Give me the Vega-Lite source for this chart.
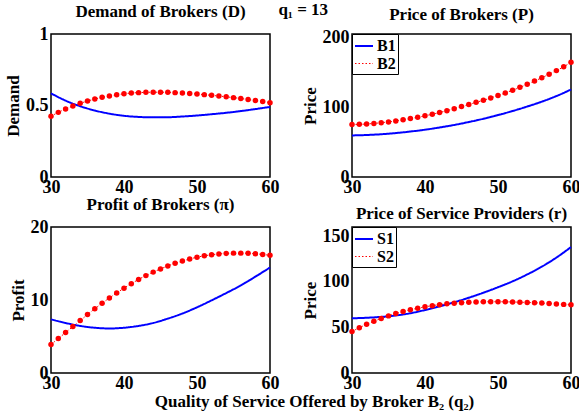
{
  "$schema": "https://vega.github.io/schema/vega-lite/v6.json",
  "background": "white",
  "padding": {"left": 3, "top": 1, "right": 0, "bottom": 2},
  "title": {"text": "q₁ = 13", "anchor": "middle", "offset": -17, "baseline": "top", "dx": 11, "fontSize": 17, "font": "Liberation Serif", "fontWeight": "bold", "color": "black"},
  "columns": 2,
  "spacing": {"row": 50, "column": 82},
  "bounds": "flush",
  "resolve": {"scale": {"color": "independent", "strokeDash": "independent", "strokeWidth": "independent"}},
  "datasets": {
    "demand": [
      {"q":30,"v":0.425,"s":"B2"},{"q":31,"v":0.452,"s":"B2"},{"q":32,"v":0.476,"s":"B2"},{"q":33,"v":0.497,"s":"B2"},{"q":34,"v":0.515,"s":"B2"},{"q":35,"v":0.531,"s":"B2"},{"q":36,"v":0.545,"s":"B2"},{"q":37,"v":0.557,"s":"B2"},{"q":38,"v":0.567,"s":"B2"},{"q":39,"v":0.575,"s":"B2"},{"q":40,"v":0.582,"s":"B2"},{"q":41,"v":0.587,"s":"B2"},{"q":42,"v":0.590,"s":"B2"},{"q":43,"v":0.592,"s":"B2"},{"q":44,"v":0.593,"s":"B2"},{"q":45,"v":0.593,"s":"B2"},{"q":46,"v":0.592,"s":"B2"},{"q":47,"v":0.590,"s":"B2"},{"q":48,"v":0.587,"s":"B2"},{"q":49,"v":0.584,"s":"B2"},{"q":50,"v":0.580,"s":"B2"},{"q":51,"v":0.576,"s":"B2"},{"q":52,"v":0.571,"s":"B2"},{"q":53,"v":0.566,"s":"B2"},{"q":54,"v":0.561,"s":"B2"},{"q":55,"v":0.555,"s":"B2"},{"q":56,"v":0.549,"s":"B2"},{"q":57,"v":0.542,"s":"B2"},{"q":58,"v":0.535,"s":"B2"},{"q":59,"v":0.528,"s":"B2"},{"q":60,"v":0.520,"s":"B2"},
      {"q":30,"v":0.585,"s":"B1"},{"q":32,"v":0.534,"s":"B1"},{"q":34,"v":0.495,"s":"B1"},{"q":36,"v":0.465,"s":"B1"},{"q":38,"v":0.443,"s":"B1"},{"q":40,"v":0.428,"s":"B1"},{"q":42,"v":0.420,"s":"B1"},{"q":44,"v":0.417,"s":"B1"},{"q":46,"v":0.418,"s":"B1"},{"q":48,"v":0.423,"s":"B1"},{"q":50,"v":0.430,"s":"B1"},{"q":52,"v":0.439,"s":"B1"},{"q":54,"v":0.449,"s":"B1"},{"q":56,"v":0.461,"s":"B1"},{"q":58,"v":0.475,"s":"B1"},{"q":60,"v":0.490,"s":"B1"}
    ],
    "bprice": [
      {"q":30,"v":75.3,"s":"B2"},{"q":31,"v":75.5,"s":"B2"},{"q":32,"v":76.0,"s":"B2"},{"q":33,"v":76.8,"s":"B2"},{"q":34,"v":77.8,"s":"B2"},{"q":35,"v":79.0,"s":"B2"},{"q":36,"v":80.4,"s":"B2"},{"q":37,"v":82.0,"s":"B2"},{"q":38,"v":83.8,"s":"B2"},{"q":39,"v":85.7,"s":"B2"},{"q":40,"v":87.7,"s":"B2"},{"q":41,"v":90.0,"s":"B2"},{"q":42,"v":92.4,"s":"B2"},{"q":43,"v":95.0,"s":"B2"},{"q":44,"v":97.9,"s":"B2"},{"q":45,"v":101.0,"s":"B2"},{"q":46,"v":104.0,"s":"B2"},{"q":47,"v":107.0,"s":"B2"},{"q":48,"v":110.0,"s":"B2"},{"q":49,"v":113.3,"s":"B2"},{"q":50,"v":116.8,"s":"B2"},{"q":51,"v":120.5,"s":"B2"},{"q":52,"v":124.4,"s":"B2"},{"q":53,"v":128.5,"s":"B2"},{"q":54,"v":132.9,"s":"B2"},{"q":55,"v":137.5,"s":"B2"},{"q":56,"v":142.3,"s":"B2"},{"q":57,"v":147.3,"s":"B2"},{"q":58,"v":152.5,"s":"B2"},{"q":59,"v":158.0,"s":"B2"},{"q":60,"v":164.5,"s":"B2"},
      {"q":30,"v":59.6,"s":"B1"},{"q":32,"v":60.2,"s":"B1"},{"q":34,"v":61.3,"s":"B1"},{"q":36,"v":63.0,"s":"B1"},{"q":38,"v":65.2,"s":"B1"},{"q":40,"v":67.8,"s":"B1"},{"q":42,"v":71.0,"s":"B1"},{"q":44,"v":74.6,"s":"B1"},{"q":46,"v":78.8,"s":"B1"},{"q":48,"v":83.5,"s":"B1"},{"q":50,"v":88.8,"s":"B1"},{"q":52,"v":94.6,"s":"B1"},{"q":54,"v":101.0,"s":"B1"},{"q":56,"v":108.0,"s":"B1"},{"q":58,"v":116.0,"s":"B1"},{"q":60,"v":125.4,"s":"B1"}
    ],
    "profit": [
      {"q":30,"v":3.9,"s":"B2"},{"q":31,"v":4.72,"s":"B2"},{"q":32,"v":5.54,"s":"B2"},{"q":33,"v":6.36,"s":"B2"},{"q":34,"v":7.18,"s":"B2"},{"q":35,"v":8.0,"s":"B2"},{"q":36,"v":8.8,"s":"B2"},{"q":37,"v":9.56,"s":"B2"},{"q":38,"v":10.28,"s":"B2"},{"q":39,"v":10.96,"s":"B2"},{"q":40,"v":11.62,"s":"B2"},{"q":41,"v":12.24,"s":"B2"},{"q":42,"v":12.82,"s":"B2"},{"q":43,"v":13.34,"s":"B2"},{"q":44,"v":13.82,"s":"B2"},{"q":45,"v":14.26,"s":"B2"},{"q":46,"v":14.66,"s":"B2"},{"q":47,"v":15.02,"s":"B2"},{"q":48,"v":15.34,"s":"B2"},{"q":49,"v":15.62,"s":"B2"},{"q":50,"v":15.86,"s":"B2"},{"q":51,"v":16.05,"s":"B2"},{"q":52,"v":16.2,"s":"B2"},{"q":53,"v":16.31,"s":"B2"},{"q":54,"v":16.38,"s":"B2"},{"q":55,"v":16.42,"s":"B2"},{"q":56,"v":16.42,"s":"B2"},{"q":57,"v":16.39,"s":"B2"},{"q":58,"v":16.33,"s":"B2"},{"q":59,"v":16.24,"s":"B2"},{"q":60,"v":16.12,"s":"B2"},
      {"q":30,"v":7.35,"s":"B1"},{"q":32,"v":6.85,"s":"B1"},{"q":34,"v":6.45,"s":"B1"},{"q":36,"v":6.2,"s":"B1"},{"q":38,"v":6.1,"s":"B1"},{"q":40,"v":6.2,"s":"B1"},{"q":42,"v":6.45,"s":"B1"},{"q":44,"v":6.85,"s":"B1"},{"q":46,"v":7.45,"s":"B1"},{"q":48,"v":8.15,"s":"B1"},{"q":50,"v":9.0,"s":"B1"},{"q":52,"v":9.95,"s":"B1"},{"q":54,"v":10.95,"s":"B1"},{"q":56,"v":12.0,"s":"B1"},{"q":58,"v":13.2,"s":"B1"},{"q":60,"v":14.45,"s":"B1"}
    ],
    "sprice": [
      {"q":30,"v":45.5,"s":"S2"},{"q":31,"v":49.6,"s":"S2"},{"q":32,"v":53.3,"s":"S2"},{"q":33,"v":56.7,"s":"S2"},{"q":34,"v":59.8,"s":"S2"},{"q":35,"v":62.6,"s":"S2"},{"q":36,"v":65.1,"s":"S2"},{"q":37,"v":67.3,"s":"S2"},{"q":38,"v":69.3,"s":"S2"},{"q":39,"v":71.0,"s":"S2"},{"q":40,"v":72.5,"s":"S2"},{"q":41,"v":73.8,"s":"S2"},{"q":42,"v":74.9,"s":"S2"},{"q":43,"v":75.8,"s":"S2"},{"q":44,"v":76.5,"s":"S2"},{"q":45,"v":77.1,"s":"S2"},{"q":46,"v":77.5,"s":"S2"},{"q":47,"v":77.8,"s":"S2"},{"q":48,"v":78.0,"s":"S2"},{"q":49,"v":78.1,"s":"S2"},{"q":50,"v":78.1,"s":"S2"},{"q":51,"v":78.0,"s":"S2"},{"q":52,"v":77.8,"s":"S2"},{"q":53,"v":77.6,"s":"S2"},{"q":54,"v":77.3,"s":"S2"},{"q":55,"v":77.0,"s":"S2"},{"q":56,"v":76.6,"s":"S2"},{"q":57,"v":76.2,"s":"S2"},{"q":58,"v":75.7,"s":"S2"},{"q":59,"v":75.2,"s":"S2"},{"q":60,"v":74.7,"s":"S2"},
      {"q":30,"v":60.0,"s":"S1"},{"q":32,"v":60.5,"s":"S1"},{"q":34,"v":61.5,"s":"S1"},{"q":36,"v":63.0,"s":"S1"},{"q":38,"v":65.5,"s":"S1"},{"q":40,"v":69.0,"s":"S1"},{"q":42,"v":73.0,"s":"S1"},{"q":44,"v":77.5,"s":"S1"},{"q":46,"v":82.5,"s":"S1"},{"q":48,"v":88.0,"s":"S1"},{"q":50,"v":94.0,"s":"S1"},{"q":52,"v":100.5,"s":"S1"},{"q":54,"v":108.0,"s":"S1"},{"q":56,"v":116.5,"s":"S1"},{"q":58,"v":126.5,"s":"S1"},{"q":60,"v":138.0,"s":"S1"}
    ]
  },
  "concat": [
    {
      "width": 219, "height": 143,
      "title": {"text": "Demand of Brokers (D)"},
      "data": {"name": "demand"},
      "encoding": {
        "x": {"field": "q", "type": "quantitative", "scale": {"domain": [30, 60]}, "axis": {"values": [30, 40, 50, 60], "title": null}},
        "y": {"field": "v", "type": "quantitative", "scale": {"domain": [0, 1]}, "axis": {"values": [0, 0.5, 1], "format": "~g", "title": "Demand"}}
      },
      "layer": [
        {"mark": {"type": "line", "interpolate": "monotone"},
         "encoding": {
           "color": {"field": "s", "type": "nominal", "scale": {"domain": ["B1", "B2"], "range": ["#0000ff", "#ff0000"]}, "legend": null},
           "strokeDash": {"field": "s", "type": "nominal", "scale": {"domain": ["B1", "B2"], "range": [[1, 0], [1.5, 2]]}, "legend": null},
           "strokeWidth": {"field": "s", "type": "nominal", "scale": {"domain": ["B1", "B2"], "range": [2, 1]}, "legend": null}
         }},
        {"transform": [{"filter": "datum.s == 'B2'"}], "mark": {"type": "point", "filled": true, "color": "#ff0000", "size": 30, "opacity": 1}}
      ]
    },
    {
      "width": 219, "height": 143,
      "title": {"text": "Price of Brokers (P)"},
      "data": {"name": "bprice"},
      "encoding": {
        "x": {"field": "q", "type": "quantitative", "scale": {"domain": [30, 60]}, "axis": {"values": [30, 40, 50, 60], "title": null}},
        "y": {"field": "v", "type": "quantitative", "scale": {"domain": [0, 205]}, "axis": {"values": [0, 100, 200], "title": "Price"}}
      },
      "layer": [
        {"mark": {"type": "line", "interpolate": "monotone"},
         "encoding": {
           "color": {"field": "s", "type": "nominal", "scale": {"domain": ["B1", "B2"], "range": ["#0000ff", "#ff0000"]}, "legend": {"title": null}},
           "strokeDash": {"field": "s", "type": "nominal", "scale": {"domain": ["B1", "B2"], "range": [[1, 0], [1.5, 2]]}, "legend": {"title": null}},
           "strokeWidth": {"field": "s", "type": "nominal", "scale": {"domain": ["B1", "B2"], "range": [2, 1]}, "legend": null}
         }},
        {"transform": [{"filter": "datum.s == 'B2'"}], "mark": {"type": "point", "filled": true, "color": "#ff0000", "size": 30, "opacity": 1}}
      ]
    },
    {
      "width": 219, "height": 146,
      "title": {"text": "Profit of Brokers (π)"},
      "data": {"name": "profit"},
      "encoding": {
        "x": {"field": "q", "type": "quantitative", "scale": {"domain": [30, 60]}, "axis": {"values": [30, 40, 50, 60], "title": "Quality of Service Offered by Broker B₂ (q₂)", "titleX": 263}},
        "y": {"field": "v", "type": "quantitative", "scale": {"domain": [0, 20]}, "axis": {"values": [0, 10, 20], "title": "Profit"}}
      },
      "layer": [
        {"mark": {"type": "line", "interpolate": "monotone"},
         "encoding": {
           "color": {"field": "s", "type": "nominal", "scale": {"domain": ["B1", "B2"], "range": ["#0000ff", "#ff0000"]}, "legend": null},
           "strokeDash": {"field": "s", "type": "nominal", "scale": {"domain": ["B1", "B2"], "range": [[1, 0], [1.5, 2]]}, "legend": null},
           "strokeWidth": {"field": "s", "type": "nominal", "scale": {"domain": ["B1", "B2"], "range": [2, 1]}, "legend": null}
         }},
        {"transform": [{"filter": "datum.s == 'B2'"}], "mark": {"type": "point", "filled": true, "color": "#ff0000", "size": 30, "opacity": 1}}
      ]
    },
    {
      "width": 219, "height": 146,
      "title": {"text": "Price of Service Providers (r)"},
      "data": {"name": "sprice"},
      "encoding": {
        "x": {"field": "q", "type": "quantitative", "scale": {"domain": [30, 60]}, "axis": {"values": [30, 40, 50, 60], "title": null}},
        "y": {"field": "v", "type": "quantitative", "scale": {"domain": [0, 160]}, "axis": {"values": [0, 50, 100, 150], "title": "Price"}}
      },
      "layer": [
        {"mark": {"type": "line", "interpolate": "monotone"},
         "encoding": {
           "color": {"field": "s", "type": "nominal", "scale": {"domain": ["S1", "S2"], "range": ["#0000ff", "#ff0000"]}, "legend": {"title": null}},
           "strokeDash": {"field": "s", "type": "nominal", "scale": {"domain": ["S1", "S2"], "range": [[1, 0], [1.5, 2]]}, "legend": {"title": null}},
           "strokeWidth": {"field": "s", "type": "nominal", "scale": {"domain": ["S1", "S2"], "range": [2, 1]}, "legend": null}
         }},
        {"transform": [{"filter": "datum.s == 'S2'"}], "mark": {"type": "point", "filled": true, "color": "#ff0000", "size": 30, "opacity": 1}}
      ]
    }
  ],
  "config": {
    "font": "Liberation Serif",
    "view": {"stroke": "black", "strokeWidth": 1.5},
    "title": {"font": "Liberation Serif", "fontSize": 17, "fontWeight": "bold", "color": "black", "offset": 4, "anchor": "middle"},
    "axis": {
      "grid": false, "ticks": false, "domain": false,
      "labelFont": "Liberation Serif", "labelFontSize": 18, "labelFontWeight": "bold", "labelColor": "black",
      "titleFont": "Liberation Serif", "titleFontSize": 17, "titleFontWeight": "bold", "titleColor": "black",
      "labelFlush": false, "labelOverlap": false
    },
    "axisX": {"labelPadding": 1, "titlePadding": 1},
    "axisY": {"labelPadding": 3, "titlePadding": 3},
    "legend": {
      "orient": "top-left", "offset": 0, "strokeColor": "black", "fillColor": "white", "padding": 2,
      "labelFont": "Liberation Serif", "labelFontSize": 16, "labelFontWeight": "bold", "labelColor": "black",
      "symbolType": "stroke", "symbolSize": 324, "symbolStrokeWidth": 2, "rowPadding": 0, "labelOffset": 3
    }
  }
}
